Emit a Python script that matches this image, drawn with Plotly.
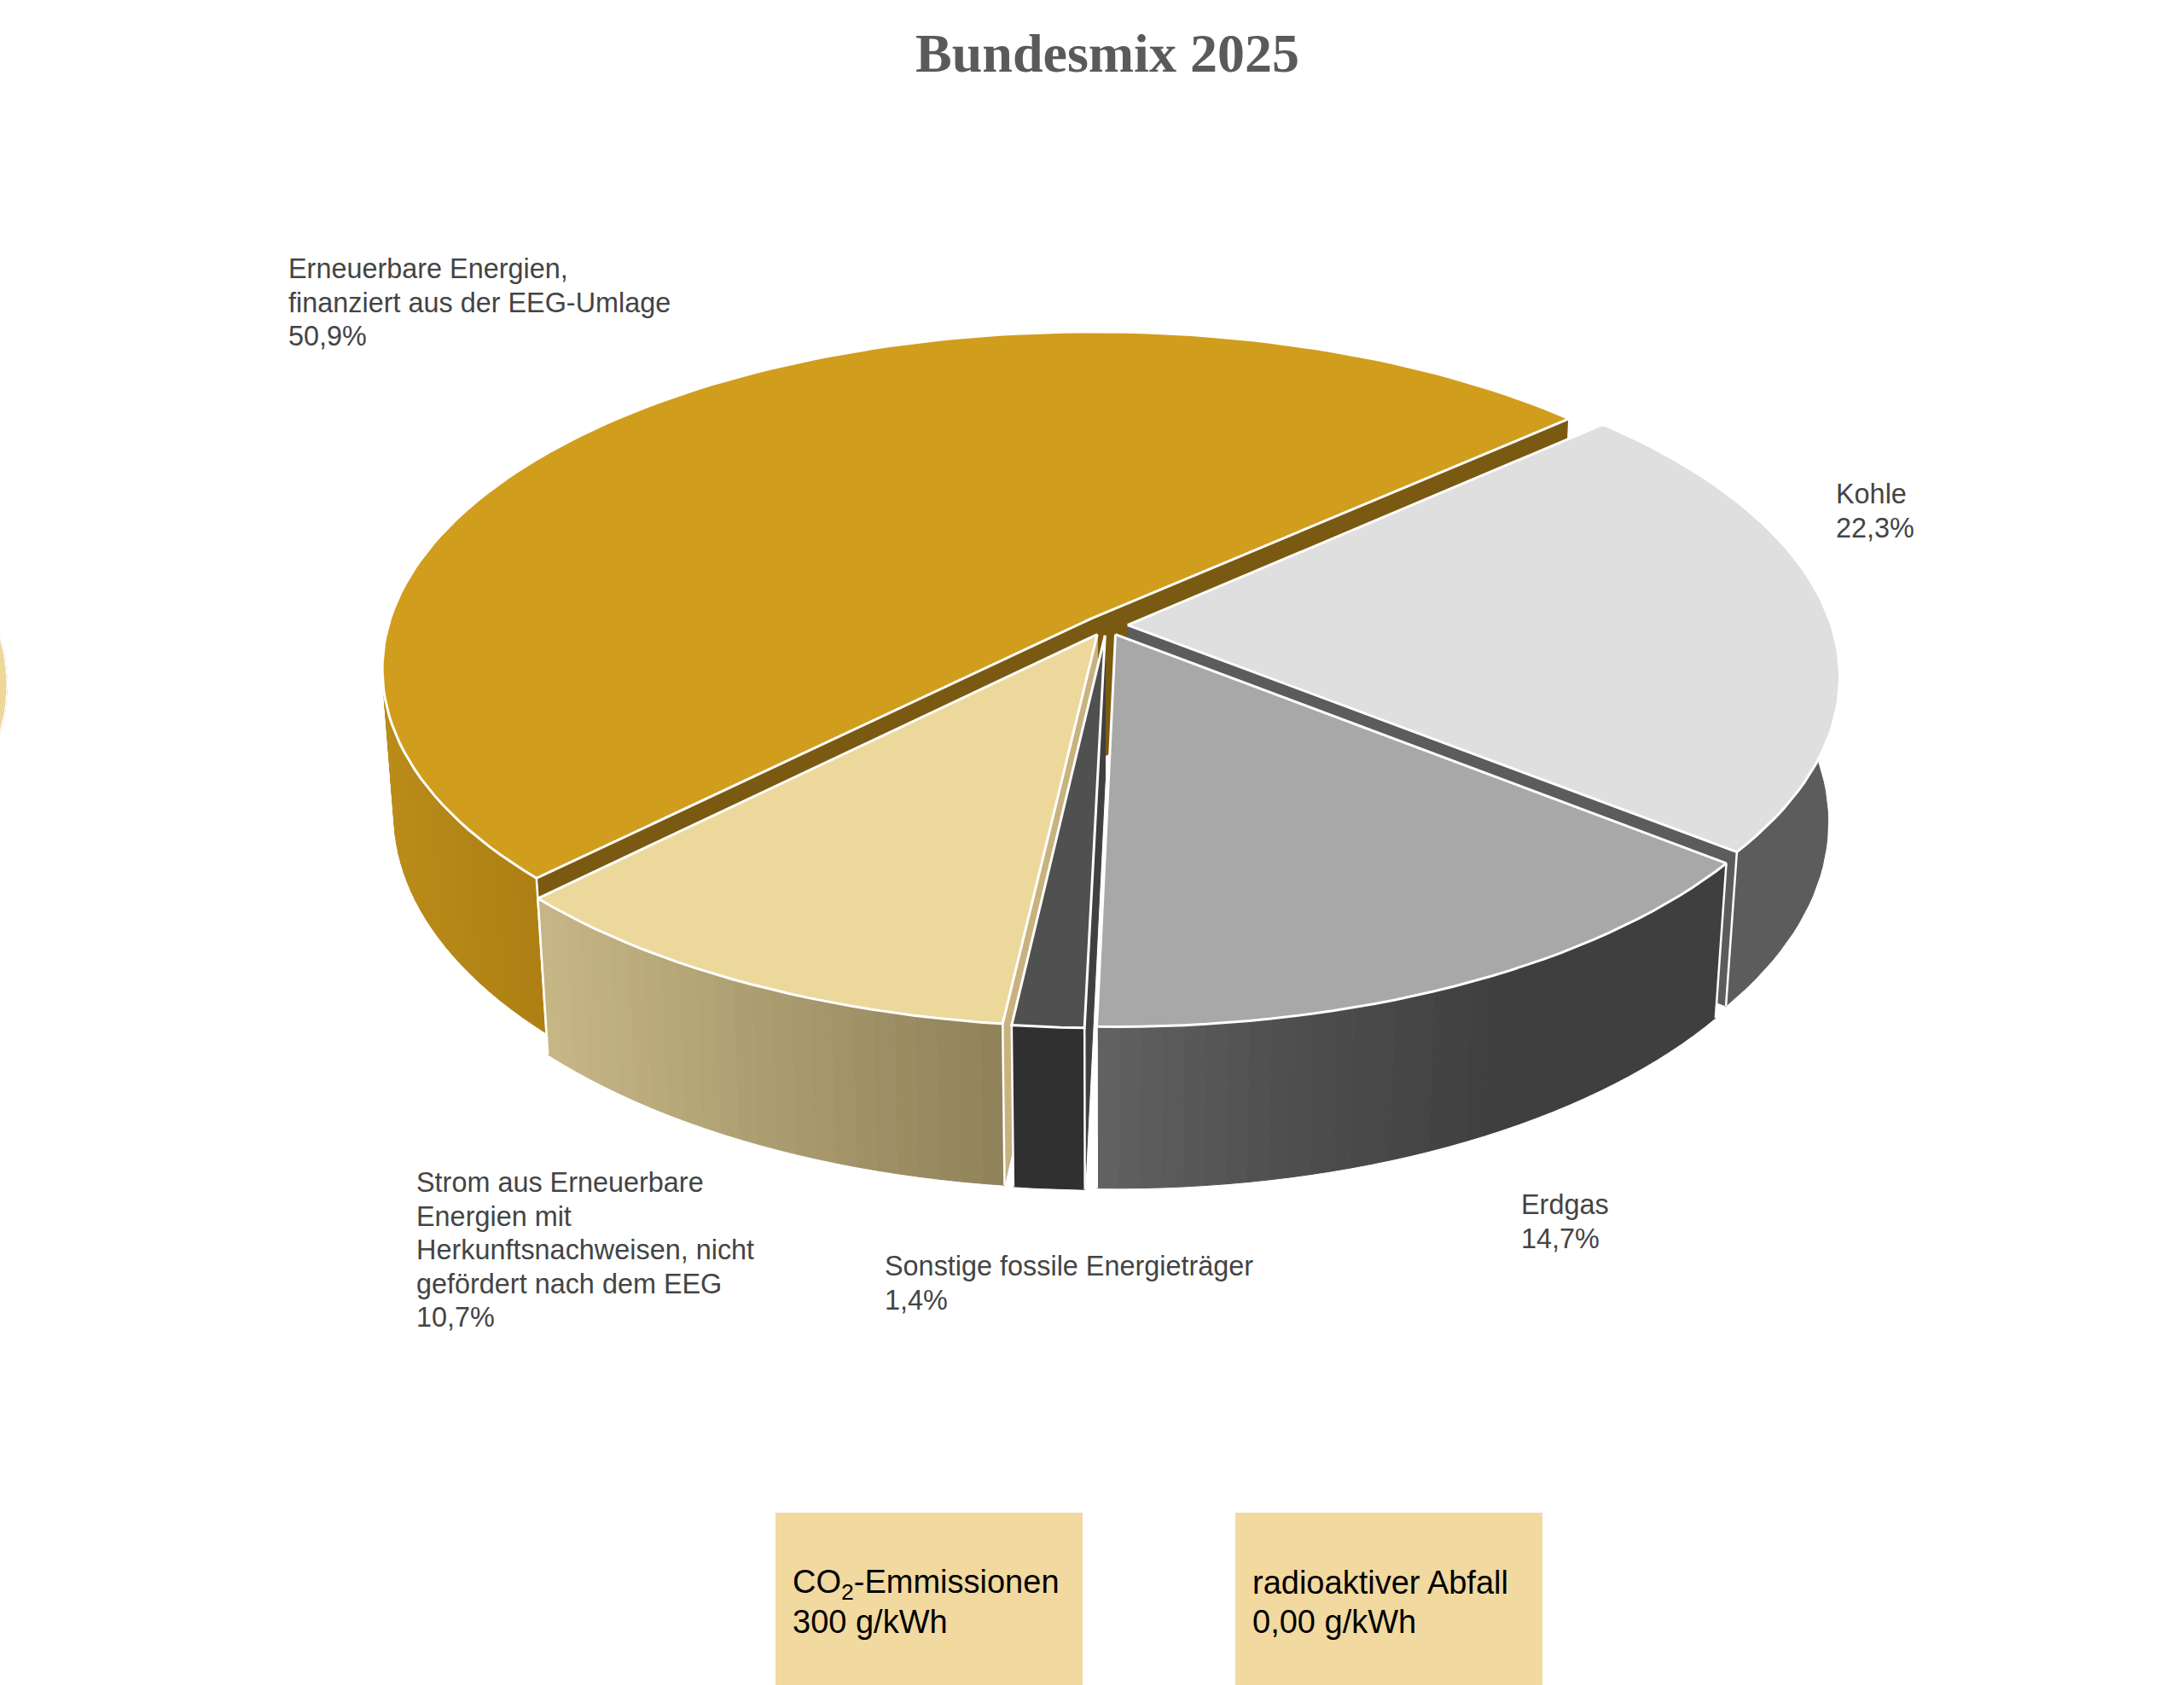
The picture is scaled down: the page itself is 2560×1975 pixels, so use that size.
import numpy as np
import plotly.graph_objects as go

# Anteile im Uhrzeigersinn, beginnend oben rechts
namen = ["Kohle", "Erdgas", "Sonstige fossile Energieträger",
         "Strom aus Erneuerbare<br>Energien mit<br>Herkunftsnachweisen, nicht<br>gefördert nach dem EEG",
         "Erneuerbare Energien,<br>finanziert aus der EEG-Umlage"]
anteile = [22.3, 14.7, 1.4, 10.7, 50.9]
anteile_text = ["22,3%", "14,7%", "1,4%", "10,7%", "50,9%"]

titel = "Bundesmix 2025"
kasten_text = ["CO<sub>2</sub>-Emmissionen<br>300 g/kWh", "radioaktiver Abfall<br>0,00 g/kWh"]

# Aussehen
deckel = ["#DFDFDF", "#A8A8A8", "#505050", "#EDD89C", "#D19D1D"]
schnitt = ["#5C5C5C", "#404040", "#404040", "#C8B27E", "#7A5A12"]
mantel = [[(0, "#5C5C5C")],
          [(1288, "#626262"), (1500, "#505050"), (1750, "#404040"), (2010, "#3F3F3F")],
          [(0, "#303030")],
          [(648, "#C6B686"), (1177, "#8F8159")],
          [(451, "#BA8C1A"), (643, "#AD7F14")]]
label_pos = [(2151, 579), (1782, 1412), (1036, 1484), (487, 1386), (337, 315)]
zeichen_folge = [4, 0, 3, 2, 1]

START = 41.8
AUSRUECKEN = 0.03
RX, RY, HOEHE = 825.0, 388.0, 171.0
K, M = 0.1488, 0.016


def projiziere(u, v, z, cx, cy):
    w = 1 + K * v + M * z
    return cx + RX * u / w, cy + (-RY * v + HOEHE * z) / w


def fuelle(fig, x, y, farbe, rand=None, breite=1):
    fig.add_trace(go.Scatter(x=list(x), y=list(y), mode="lines", fill="toself", fillcolor=farbe,
                             line=dict(color=rand or farbe, width=breite),
                             hoverinfo="skip", showlegend=False))


def linie(fig, x, y, breite=2.5):
    fig.add_trace(go.Scatter(x=list(x), y=list(y), mode="lines",
                             line=dict(color="white", width=breite),
                             hoverinfo="skip", showlegend=False))


def farbe_bei(stops, x):
    if len(stops) == 1:
        return stops[0][1]
    xs = [s[0] for s in stops]
    rgb = [[int(s[1][i:i + 2], 16) for s in stops] for i in (1, 3, 5)]
    return "rgb(%d,%d,%d)" % tuple(np.interp(x, xs, kanal) for kanal in rgb)


def stueck(fig, a0, a1, d, cx, cy, c_deckel, c_schnitt, stops, rand=3):
    mitte = np.radians((a0 + a1) / 2)
    du, dv = d * np.cos(mitte), d * np.sin(mitte)
    n = max(int(abs(a1 - a0) / 1.5), 2)
    t = np.radians(np.linspace(a0, a1, n + 1))
    u, v = du + np.cos(t), dv + np.sin(t)
    ox, oy = projiziere(u, v, 0, cx, cy)
    ux, uy = projiziere(u, v, 1, cx, cy)
    mx, my = projiziere(du, dv, 0, cx, cy)
    mx2, my2 = projiziere(du, dv, 1, cx, cy)

    # Schnittflächen
    for i in (0, -1):
        fuelle(fig, [mx, ox[i], ux[i], mx2, mx], [my, oy[i], uy[i], my2, my], c_schnitt)

    # Mantel, als Streifen wegen des Verlaufs
    if len(stops) == 1:
        vorn = np.sin(t) < 0.25
        fuelle(fig, np.r_[ox[vorn], ux[vorn][::-1]], np.r_[oy[vorn], uy[vorn][::-1]], stops[0][1])
    else:
        for i in range(n):
            if np.sin((t[i] + t[i + 1]) / 2) > 0.25:
                continue
            fuelle(fig, [ox[i], ox[i + 1], ux[i + 1], ux[i], ox[i]],
                   [oy[i], oy[i + 1], uy[i + 1], uy[i], oy[i]],
                   farbe_bei(stops, (ox[i] + ox[i + 1]) / 2))

    for i in (0, -1):
        linie(fig, [ox[i], ux[i]], [oy[i], uy[i]])

    # Deckel
    fuelle(fig, np.r_[mx, ox, mx], np.r_[my, oy, my], c_deckel, "white", rand)


def text_block(fig, x, y, zeilen, abstand, groesse, farbe):
    for j, zeile in enumerate(zeilen):
        # die Zeile mit Tiefstellung wird höher gesetzt, deshalb etwas nachschieben
        extra = 2 if "<sub>" in zeile else 0
        fig.add_annotation(x=x, y=y + j * abstand + extra, text=zeile, showarrow=False, xanchor="left",
                           yanchor="middle", borderpad=0,
                           font=dict(family="Liberation Sans", size=groesse, color=farbe))


fig = go.Figure()

# Nachbargrafik, nur der Rand ragt ins Bild
stueck(fig, 90.0, -270.0, 0.0, -826, 744, "#EDD79B", "#4F4626", [(0, "#4F4626")], rand=1.5)

grenzen = START - np.cumsum([0] + anteile) * 3.6
for i in zeichen_folge:
    stueck(fig, grenzen[i], grenzen[i + 1], AUSRUECKEN, 1297, 733, deckel[i], schnitt[i], mantel[i])

for (x, y), name, wert in zip(label_pos, namen, anteile_text):
    text_block(fig, x, y, name.split("<br>") + [wert], 39.6, 32.4, "#444444")

for x0, text in zip([909, 1448], kasten_text):
    fig.add_shape(type="rect", x0=x0, x1=x0 + 360, y0=1773, y1=1975, fillcolor="#F1D99F", line_width=0, layer="below")
    text_block(fig, x0 + 19, 1855, text.split("<br>"), 46, 38, "black")

fig.add_annotation(x=1298, y=62, text="<b>" + titel + "</b>", showarrow=False, xanchor="center", yanchor="middle",
                   font=dict(family="Liberation Serif", size=64, color="#5A5A5A"))

fig.update_layout(width=2560, height=1975, margin=dict(l=0, r=0, t=0, b=0),
                  paper_bgcolor="white", plot_bgcolor="white", showlegend=False,
                  xaxis=dict(range=[0, 2560], visible=False, fixedrange=True),
                  yaxis=dict(range=[1975, 0], visible=False, fixedrange=True))

fig.write_html("out.html", config={"displayModeBar": False}, post_script="document.body.style.margin='0';")
